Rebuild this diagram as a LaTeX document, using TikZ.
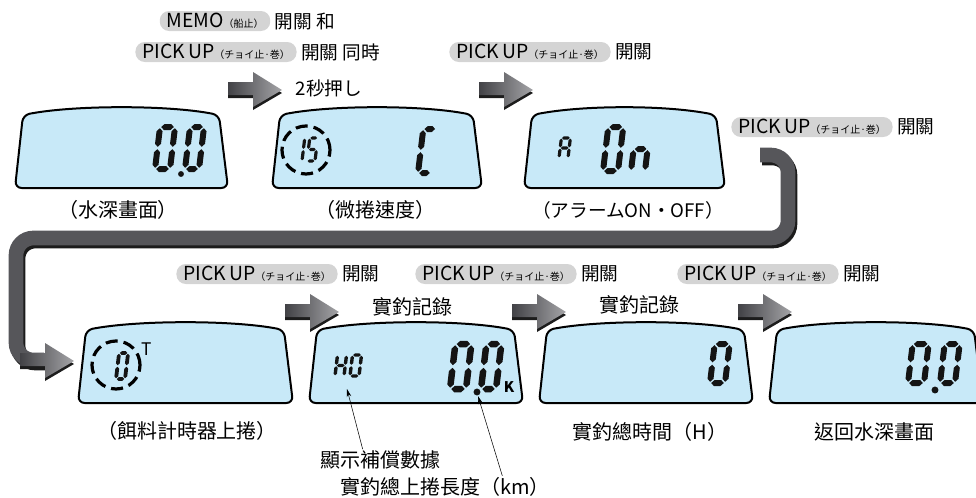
\documentclass[tikz,border=0pt]{standalone}
\usepackage{fontspec}
\newfontfamily\jp{Noto Sans CJK JP}
\newfontfamily\tc{Noto Sans CJK TC}
\usetikzlibrary{positioning,arrows.meta}

\definecolor{lcdblue}{RGB}{200,233,248}
\definecolor{pillgray}{RGB}{212,212,212}
\definecolor{bandgray}{RGB}{86,86,90}
\definecolor{arrowdark}{RGB}{66,66,70}
\definecolor{arrowlight}{RGB}{165,165,168}
\definecolor{shadowgray}{RGB}{28,28,28}
\definecolor{digitblack}{RGB}{20,20,20}

\newcommand{\pickext}{{\fontsize{7.5}{7.5}\selectfont（チョイ止·巻）}}

% LCD window: left x, bottom y, width (px)
\newcommand{\lcd}[3]{%
  \draw[lcdface] (#1,#2) -- ({#1+8},{#2-73})
    .. controls ({#1+60},{#2-83}) and ({#1+#3-60},{#2-83}) .. ({#1+#3-9},{#2-73})
    -- ({#1+#3},#2) -- cycle;}

% seven segment pieces
\newcommand{\hseg}[3]{\fill[digitblack] (#1,#3) -- ({#1+\st/2},{#3-\st/2}) -- ({#2-\st/2},{#3-\st/2}) -- (#2,#3) -- ({#2-\st/2},{#3+\st/2}) -- ({#1+\st/2},{#3+\st/2}) -- cycle;}
\newcommand{\vseg}[3]{\fill[digitblack] (#1,#2) -- ({#1+\st/2},{#2+\st/2}) -- ({#1+\st/2},{#3-\st/2}) -- (#1,#3) -- ({#1-\st/2},{#3-\st/2}) -- ({#1-\st/2},{#2+\st/2}) -- cycle;}
\newcommand{\sega}{\hseg{\sg}{\sw-\sg}{-\sh}}
\newcommand{\segb}{\vseg{\sw}{-\sh+\sg}{-\sh/2-\sg}}
\newcommand{\segc}{\vseg{\sw}{-\sh/2+\sg}{-\sg}}
\newcommand{\segd}{\hseg{\sg}{\sw-\sg}{0}}
\newcommand{\sege}{\vseg{0}{-\sh/2+\sg}{-\sg}}
\newcommand{\segf}{\vseg{0}{-\sh+\sg}{-\sh/2-\sg}}
\newcommand{\segg}{\hseg{\sg}{\sw-\sg}{-\sh/2}}
% digit: x, y (bottom left), width, height, thickness, segments
\newcommand{\segdigit}[6]{%
  \begin{scope}[shift={(#1,#2)}, xslant=0.12]
    \def\sw{#3}\def\sh{#4}\def\st{#5}\def\sg{#5*0.2}
    \foreach \s in {#6} {\csname seg\s\endcsname}
  \end{scope}}

\begin{document}
\begin{tikzpicture}[
    x=0.75pt, y=-0.75pt,
    lcdface/.style={fill=lcdblue, draw=black, line width=1.5pt, rounded corners=5pt},
    pill/.style={rounded corners=7pt, fill=pillgray, inner xsep=5pt, inner ysep=1.5pt, text height=11pt, text depth=1pt, font=\jp\fontsize{14.5}{15}\selectfont},
    key/.style={font=\jp\fontsize{14}{16}\selectfont, inner sep=1pt},
    caption/.style={font=\tc\fontsize{15}{17}\selectfont, inner sep=1pt},
    note/.style={thin, -{Stealth[length=6pt, width=3.5pt]}},
    band/.style={line width=11pt, draw=bandgray, rounded corners=13pt},
    dashring/.style={line width=2.4pt, dash pattern=on 9pt off 4.5pt},
    blockarrow/.pic={
      \fill[shadowgray] (0,-4) -- (25,-4) -- (25,-14) -- (54,4) -- (25,21) -- (25,9) -- (0,9) -- cycle;
      \shade[left color=arrowdark, right color=arrowlight] (0,-7) -- (25,-7) -- (25,-17) -- (54,1) -- (25,18) -- (25,6) -- (0,6) -- cycle;
    },
]
\useasboundingbox (0,0) rectangle (976,497);
\clip (0,0) rectangle (976,497);

% Loop from first row to second row
\coordinate (loopstart) at (760,155);
\coordinate (loopend) at (44,360);
\draw[band, draw=shadowgray, transform canvas={shift={(2,3)}}] (loopstart) -| (788,238) -| (16,360) -- (loopend);
\draw[band] (loopstart) -| (788,238) -| (16,360) -- (loopend);
\pic (looptip) at (20,360) {blockarrow};

% First row: windows
\lcd{15}{188}{213}
\lcd{272}{188}{210}
\lcd{524}{188}{201}

% Second row: windows
\lcd{78}{403}{215}
\lcd{309}{403}{214}
\lcd{539}{403}{214}
\lcd{769}{403}{214}

% Window contents
\segdigit{155}{169}{15}{42}{6}{a,b,c,d,e,f}
\segdigit{185}{169}{14}{42}{6}{a,b,c,d,e,f}
\fill[digitblack] (181,174) circle[radius=2.2pt];

\draw[dashring] (306,150) circle[radius=18pt];
\segdigit{294}{161}{8}{23}{3.2}{b,c}
\segdigit{307}{161}{8}{23}{3.2}{a,f,g,c,d}
\segdigit{418}{173}{13}{44}{6}{a,d,e,f}

\segdigit{559}{158}{9}{20}{3.2}{a,b,c,e,f,g}
\segdigit{603}{171}{15}{44}{6}{a,b,c,d,e,f}
\segdigit{631}{171}{14}{44}{6}{c,e,g}

\draw[dashring] (116,365) circle[radius=18pt];
\segdigit{116}{379}{9}{26}{3.8}{a,b,c,d,e,f}
\node[font=\jp\fontsize{13}{13}\selectfont, inner sep=0] (timerT) at (147,349) {T};

\segdigit{335}{376}{9}{21}{3.4}{b,c,e,f,g}
\segdigit{350}{376}{9}{21}{3.4}{a,b,c,d,e,f}
\segdigit{450}{389}{16}{45}{6.5}{a,b,c,d,e,f}
\segdigit{481}{389}{15}{45}{6.5}{a,b,c,d,e,f}
\fill[digitblack] (477,392) circle[radius=2.6pt];
\node[font=\jp\bfseries\fontsize{11}{11}\selectfont, inner sep=0] (unitK) at (509,387) {K};

\segdigit{710}{383}{15}{39}{6}{a,b,c,d,e,f}

\segdigit{908}{383}{16}{39}{6}{a,b,c,d,e,f}
\segdigit{940}{383}{15}{39}{6}{a,b,c,d,e,f}
\fill[digitblack] (935,390) circle[radius=2.6pt];

% Buttons and arrows, first row
\node[pill] (memo) at (215,21) {MEMO{\fontsize{7.5}{7.5}\selectfont（船止）}};
\node[key, right=2pt of memo] (memokey) {開關 {\tc 和}};
\node[pill] (pickA) at (216,52) {PICK\,UP\pickext};
\node[key, right=2pt of pickA] (pickAkey) {開關 同時};
\pic (stepA) at (228,89) {blockarrow};
\node[key] (press) at (329,88) {2秒押し};

\node[pill] (pickB) at (530,52) {PICK\,UP\pickext};
\node[key, right=2pt of pickB] (pickBkey) {開關};
\pic (stepB) at (479,89) {blockarrow};

\node[pill] (pickF) at (812,127) {PICK\,UP\pickext};
\node[key, right=2pt of pickF] (pickFkey) {開關};

% Buttons and arrows, second row
\node[pill] (pickC) at (257,274) {PICK\,UP\pickext};
\node[key, right=2pt of pickC] (pickCkey) {開關};
\pic (stepC) at (285,311) {blockarrow};
\node[caption] (record1) at (412,307) {實釣記錄};

\node[pill] (pickD) at (496,274) {PICK\,UP\pickext};
\node[key, right=2pt of pickD] (pickDkey) {開關};
\pic (stepD) at (512,311) {blockarrow};
\node[caption] (record2) at (639,305) {實釣記錄};

\node[pill] (pickE) at (758,274) {PICK\,UP\pickext};
\node[key, right=2pt of pickE] (pickEkey) {開關};
\pic (stepE) at (738,311) {blockarrow};

% Captions
\node[caption] (capdepth) at (118,210) {（水深畫面）};
\node[caption] (capspeed) at (375,210) {（微捲速度）};
\node[key] (capalarm) at (628,210) {（アラームON・OFF）};
\node[caption] (capbait) at (187,431) {（餌料計時器上捲）};
\node[caption] (captime) at (650,432) {實釣總時間（H）};
\node[caption] (capback) at (874,432) {返回水深畫面};

% Notes
\node[caption] (capcomp) at (380,460) {顯示補償數據};
\node[caption] (caplen) at (445,487) {實釣總上捲長度（km）};
\coordinate (hotip) at (347,389);
\coordinate (kmtip) at (478,396);
\draw[note] ([xshift=-13pt]capcomp.north) -- (hotip);
\draw[note] ([xshift=43pt]caplen.north) -- (kmtip);

\end{tikzpicture}
\end{document}
